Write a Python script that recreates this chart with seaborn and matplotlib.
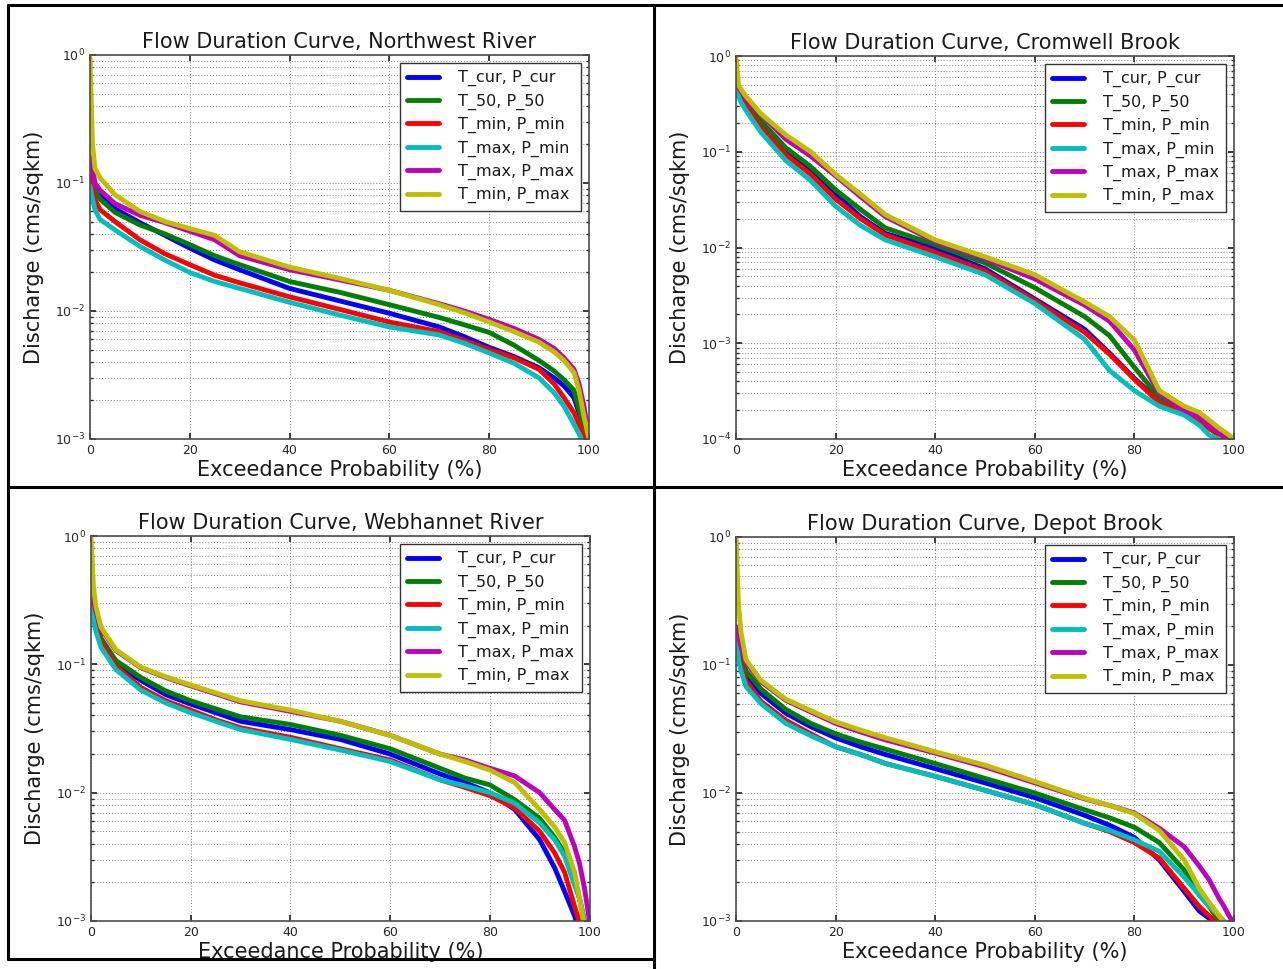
import matplotlib
matplotlib.use("Agg")
import matplotlib.pyplot as plt
from matplotlib.lines import Line2D
import seaborn as sns

# ---------------- data ----------------
EXCEEDANCE_PCT = [0, 0.5, 1, 2, 5, 10, 15, 20, 25, 30, 40, 50, 60, 70, 75, 80, 85, 90, 93, 95, 97, 98, 99, 100]

SERIES_LABELS = ["T_cur, P_cur", "T_50, P_50", "T_min, P_min", "T_max, P_min", "T_max, P_max", "T_min, P_max"]

PANEL_TITLES = ["Flow Duration Curve, Northwest River", "Flow Duration Curve, Cromwell Brook",
                "Flow Duration Curve, Webhannet River", "Flow Duration Curve, Depot Brook"]

# Northwest River
NW_TCUR_PCUR = [0.13, 0.11, 0.093, 0.08, 0.063, 0.049, 0.039, 0.031, 0.025, 0.021, 0.015, 0.012, 0.0096, 0.0075, 0.0063, 0.0052, 0.0044, 0.0036, 0.003, 0.0026, 0.0021, 0.0016, 0.0011, 0.0009]
NW_T50_P50 = [0.13, 0.10, 0.088, 0.075, 0.059, 0.047, 0.040, 0.033, 0.027, 0.023, 0.017, 0.014, 0.0112, 0.0089, 0.0078, 0.0068, 0.0054, 0.0041, 0.0034, 0.0029, 0.0024, 0.0017, 0.0012, 0.001]
NW_TMIN_PMIN = [0.12, 0.09, 0.074, 0.062, 0.05, 0.036, 0.028, 0.023, 0.019, 0.0166, 0.0129, 0.0103, 0.0082, 0.0069, 0.0059, 0.005, 0.0043, 0.0035, 0.0027, 0.0021, 0.0016, 0.0013, 0.00105, 0.0009]
NW_TMAX_PMIN = [0.095, 0.075, 0.062, 0.052, 0.043, 0.032, 0.025, 0.020, 0.017, 0.015, 0.0117, 0.0093, 0.0075, 0.0065, 0.0056, 0.0047, 0.0039, 0.003, 0.0023, 0.0018, 0.0013, 0.0011, 0.0009, 0.0007]
NW_TMAX_PMAX = [0.16, 0.13, 0.10, 0.088, 0.069, 0.056, 0.049, 0.042, 0.036, 0.027, 0.021, 0.0175, 0.0145, 0.0114, 0.0100, 0.0086, 0.0073, 0.006, 0.0051, 0.0043, 0.0035, 0.0027, 0.0018, 0.001]
NW_TMIN_PMAX = [1.0, 0.2, 0.13, 0.11, 0.081, 0.06, 0.05, 0.044, 0.039, 0.029, 0.022, 0.018, 0.0145, 0.0112, 0.0097, 0.0082, 0.0069, 0.0057, 0.0048, 0.0041, 0.0033, 0.0024, 0.0015, 0.001]

# Cromwell Brook
CB_TCUR_PCUR = [0.5, 0.44, 0.39, 0.31, 0.19, 0.1, 0.063, 0.036, 0.021, 0.014, 0.0098, 0.006, 0.0029, 0.0014, 0.00079, 0.00043, 0.00025, 0.00019, 0.00016, 0.00013, 0.00011, 0.0001, 0.00009, 0.00008]
CB_T50_P50 = [0.5, 0.45, 0.4, 0.33, 0.21, 0.11, 0.07, 0.04, 0.025, 0.016, 0.0107, 0.0069, 0.0038, 0.0019, 0.0012, 0.00056, 0.00027, 0.0002, 0.00017, 0.00014, 0.000115, 0.000105, 0.0001, 0.00009]
CB_TMIN_PMIN = [0.48, 0.42, 0.37, 0.3, 0.18, 0.093, 0.058, 0.032, 0.02, 0.0135, 0.0089, 0.0057, 0.0028, 0.0013, 0.00077, 0.00042, 0.00024, 0.00019, 0.00016, 0.00013, 0.00011, 0.0001, 0.00009, 0.00008]
CB_TMAX_PMIN = [0.45, 0.38, 0.33, 0.27, 0.16, 0.081, 0.05, 0.027, 0.017, 0.012, 0.008, 0.0052, 0.0026, 0.0011, 0.00052, 0.00032, 0.00022, 0.000178, 0.00014, 0.00011, 0.0001, 0.00009, 0.00008, 0.00007]
CB_TMAX_PMAX = [0.5, 0.47, 0.43, 0.36, 0.245, 0.135, 0.09, 0.056, 0.034, 0.021, 0.0115, 0.0076, 0.0047, 0.0025, 0.0017, 0.00085, 0.0003, 0.0002, 0.00017, 0.00014, 0.000118, 0.00011, 0.0001, 0.00009]
CB_TMIN_PMAX = [1.0, 0.5, 0.45, 0.38, 0.25, 0.15, 0.1, 0.058, 0.036, 0.022, 0.012, 0.008, 0.0052, 0.0027, 0.0019, 0.00108, 0.00032, 0.00022, 0.00019, 0.000158, 0.00013, 0.00012, 0.00011, 0.0001]

# Webhannet River
WR_TCUR_PCUR = [0.3, 0.25, 0.21, 0.155, 0.1, 0.075, 0.058, 0.049, 0.042, 0.036, 0.031, 0.026, 0.020, 0.014, 0.012, 0.01, 0.0074, 0.0043, 0.0026, 0.0017, 0.0011, 0.0008, 0.0007, 0.0006]
WR_T50_P50 = [0.3, 0.26, 0.22, 0.16, 0.107, 0.079, 0.062, 0.052, 0.045, 0.039, 0.034, 0.028, 0.022, 0.0155, 0.013, 0.0115, 0.0088, 0.0063, 0.0045, 0.0034, 0.002, 0.0015, 0.001, 0.0008]
WR_TMIN_PMIN = [0.3, 0.24, 0.2, 0.15, 0.097, 0.066, 0.052, 0.044, 0.037, 0.032, 0.027, 0.022, 0.018, 0.0126, 0.011, 0.0095, 0.0076, 0.005, 0.0034, 0.0024, 0.0013, 0.00098, 0.0008, 0.0007]
WR_TMAX_PMIN = [0.3, 0.22, 0.18, 0.136, 0.091, 0.063, 0.05, 0.042, 0.036, 0.031, 0.026, 0.0215, 0.0175, 0.0126, 0.0113, 0.01, 0.0083, 0.0058, 0.0043, 0.0032, 0.0019, 0.0015, 0.001, 0.0008]
WR_TMAX_PMAX = [0.35, 0.3, 0.26, 0.19, 0.128, 0.094, 0.079, 0.068, 0.059, 0.051, 0.043, 0.036, 0.028, 0.020, 0.018, 0.0155, 0.0135, 0.01, 0.0074, 0.0061, 0.0038, 0.0028, 0.0018, 0.001]
WR_TMIN_PMAX = [1.0, 0.4, 0.28, 0.195, 0.13, 0.095, 0.08, 0.069, 0.06, 0.052, 0.044, 0.036, 0.028, 0.020, 0.0175, 0.015, 0.012, 0.0074, 0.0054, 0.0041, 0.0024, 0.0015, 0.0009, 0.0008]

# Depot Brook
DB_TCUR_PCUR = [0.17, 0.13, 0.11, 0.085, 0.06, 0.042, 0.033, 0.027, 0.023, 0.020, 0.0155, 0.012, 0.0092, 0.0067, 0.0056, 0.0045, 0.003, 0.0017, 0.0012, 0.00105, 0.0008, 0.0007, 0.0006, 0.0005]
DB_T50_P50 = [0.17, 0.14, 0.12, 0.09, 0.065, 0.045, 0.035, 0.029, 0.025, 0.022, 0.017, 0.013, 0.01, 0.0074, 0.0064, 0.0054, 0.0041, 0.0025, 0.0016, 0.0013, 0.001, 0.0009, 0.0008, 0.0007]
DB_TMIN_PMIN = [0.16, 0.12, 0.1, 0.075, 0.052, 0.037, 0.029, 0.023, 0.020, 0.017, 0.0135, 0.0105, 0.0081, 0.0058, 0.005, 0.0041, 0.0031, 0.0018, 0.0013, 0.0011, 0.00095, 0.0008, 0.0007, 0.0006]
DB_TMAX_PMIN = [0.16, 0.11, 0.09, 0.068, 0.05, 0.035, 0.028, 0.023, 0.020, 0.017, 0.0135, 0.0105, 0.0081, 0.0058, 0.0051, 0.0043, 0.0035, 0.0022, 0.0016, 0.0013, 0.0011, 0.001, 0.0009, 0.0008]
DB_TMAX_PMAX = [0.2, 0.17, 0.14, 0.105, 0.074, 0.053, 0.043, 0.035, 0.030, 0.026, 0.0205, 0.016, 0.012, 0.009, 0.008, 0.007, 0.0053, 0.0038, 0.0027, 0.0021, 0.0015, 0.0013, 0.0011, 0.00095]
DB_TMIN_PMAX = [1.0, 0.3, 0.18, 0.11, 0.076, 0.054, 0.044, 0.036, 0.031, 0.027, 0.021, 0.0165, 0.0123, 0.0091, 0.008, 0.0069, 0.0051, 0.003, 0.0018, 0.0014, 0.0011, 0.00098, 0.0008, 0.0007]

Y_MIN = [1e-3, 1e-4, 1e-3, 1e-3]

PANEL_SERIES = [
    [NW_TCUR_PCUR, NW_T50_P50, NW_TMIN_PMIN, NW_TMAX_PMIN, NW_TMAX_PMAX, NW_TMIN_PMAX],
    [CB_TCUR_PCUR, CB_T50_P50, CB_TMIN_PMIN, CB_TMAX_PMIN, CB_TMAX_PMAX, CB_TMIN_PMAX],
    [WR_TCUR_PCUR, WR_T50_P50, WR_TMIN_PMIN, WR_TMAX_PMIN, WR_TMAX_PMAX, WR_TMIN_PMAX],
    [DB_TCUR_PCUR, DB_T50_P50, DB_TMIN_PMIN, DB_TMAX_PMIN, DB_TMAX_PMAX, DB_TMIN_PMAX],
]

# ---------------- style ----------------
COLORS = [(0, 0, 1), (0, 0.5, 0), (1, 0, 0), (0, 0.75, 0.75), (0.75, 0, 0.75), (0.75, 0.75, 0)]

sns.set_theme(style="white")
plt.rcParams.update({
    "font.family": ["DejaVu Sans"],
    "axes.edgecolor": "0.3",
    "axes.linewidth": 1.2,
    "xtick.direction": "in",
    "ytick.direction": "in",
    "xtick.top": True,
    "ytick.right": True,
    "xtick.bottom": True,
    "ytick.left": True,
    "xtick.major.size": 4,
    "ytick.major.size": 4,
    "ytick.minor.size": 2,
    "xtick.color": "0.15",
    "ytick.color": "0.15",
    "xtick.labelsize": 9,
    "ytick.labelsize": 9,
    "text.color": "0.1",
    "axes.labelcolor": "0.1",
    "lines.solid_capstyle": "round",
    "lines.solid_joinstyle": "round",
})

W, H = 1283, 969
fig = plt.figure(figsize=(W / 100, H / 100), dpi=100, facecolor="white")

# axes boxes in pixels: left, right, top, bottom
BOXES = [(90, 589, 55, 439), (736, 1234, 56, 439), (91, 589.5, 536, 921), (736, 1234, 537, 921)]

for i, (l, r, t, b) in enumerate(BOXES):
    ax = fig.add_axes([l / W, 1 - b / H, (r - l) / W, (b - t) / H])
    for ys, lab, col in zip(PANEL_SERIES[i], SERIES_LABELS, COLORS):
        sns.lineplot(x=EXCEEDANCE_PCT, y=ys, ax=ax, color=col, linewidth=3.5,
                     label=lab, estimator=None, sort=False)
    ax.set_yscale("log")
    ax.set_xlim(0, 100)
    ax.set_ylim(Y_MIN[i], 1)
    ax.set_xticks([0, 20, 40, 60, 80, 100])
    ax.grid(True, which="major", axis="both", linestyle=(0, (1, 2)), color="0.5", linewidth=0.7)
    ax.grid(True, which="minor", axis="y", linestyle=(0, (1, 2)), color="0.5", linewidth=0.7)
    ax.set_axisbelow(True)
    ax.tick_params(which="both", top=True, right=True, direction="in")
    ax.set_title(PANEL_TITLES[i], fontsize=15, pad=5)
    ax.set_xlabel("Exceedance Probability (%)", fontsize=15, labelpad=2)
    ax.set_ylabel("Discharge (cms/sqkm)", fontsize=15, labelpad=8)
    leg = ax.legend(loc="upper right", fontsize=11.5, fancybox=False, framealpha=1,
                    edgecolor="0.2", handlelength=2.0, labelspacing=0.45,
                    borderpad=0.45, handletextpad=1.2)
    leg.get_frame().set_linewidth(1.0)
    for s in ax.spines.values():
        s.set_visible(True)

# panel separators (table borders)
def hline(y, x0, x1):
    fig.add_artist(Line2D([x0 / W, x1 / W], [1 - y / H, 1 - y / H], color="black", lw=2.2,
                          transform=fig.transFigure))

def vline(x, y0, y1):
    fig.add_artist(Line2D([x / W, x / W], [1 - y0 / H, 1 - y1 / H], color="black", lw=2.2,
                          transform=fig.transFigure))

hline(5, 8, W)
hline(487, 8, W)
hline(959, 8, 654)
vline(8, 5, 959)
vline(654, 5, H)

fig.savefig("out.png", dpi=100, facecolor="white")
